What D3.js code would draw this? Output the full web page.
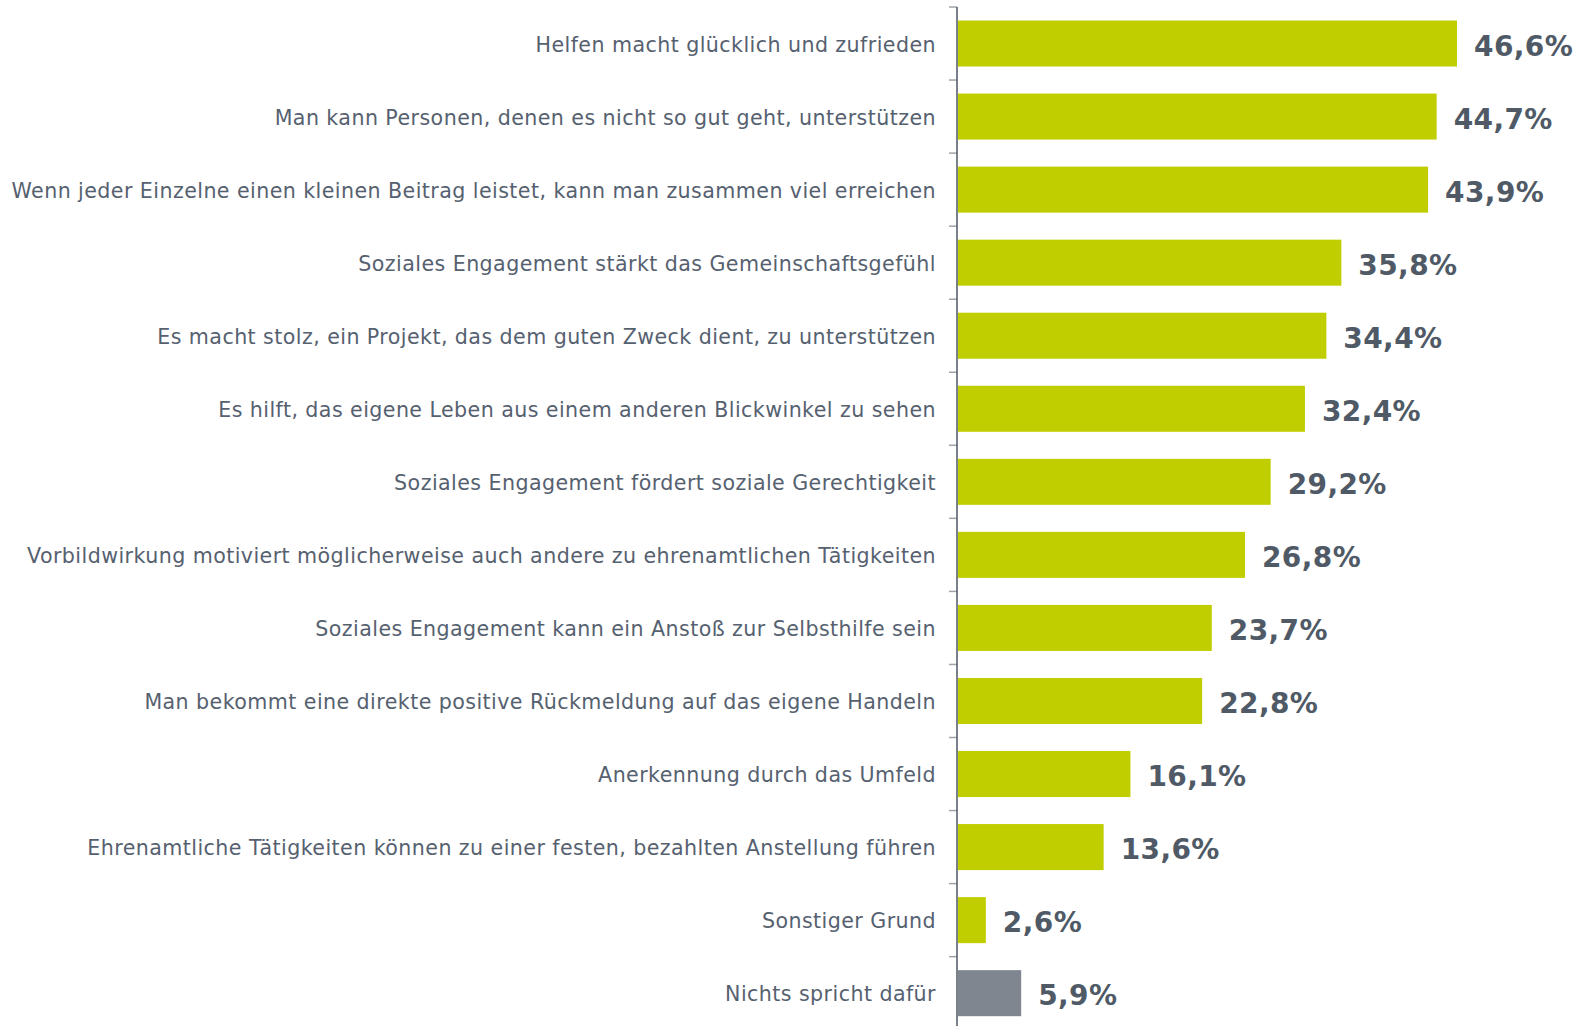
<!DOCTYPE html>
<html>
<head>
<meta charset="utf-8">
<script src="https://cdn.jsdelivr.net/npm/d3@7"></script>
<style>
  html, body { margin: 0; padding: 0; background: #fff; }
  svg { display: block; }
</style>
</head>
<body>
<div id="chart"></div>
<script>
const categories = [
  "Helfen macht glücklich und zufrieden",
  "Man kann Personen, denen es nicht so gut geht, unterstützen",
  "Wenn jeder Einzelne einen kleinen Beitrag leistet, kann man zusammen viel erreichen",
  "Soziales Engagement stärkt das Gemeinschaftsgefühl",
  "Es macht stolz, ein Projekt, das dem guten Zweck dient, zu unterstützen",
  "Es hilft, das eigene Leben aus einem anderen Blickwinkel zu sehen",
  "Soziales Engagement fördert soziale Gerechtigkeit",
  "Vorbildwirkung motiviert möglicherweise auch andere zu ehrenamtlichen Tätigkeiten",
  "Soziales Engagement kann ein Anstoß zur Selbsthilfe sein",
  "Man bekommt eine direkte positive Rückmeldung auf das eigene Handeln",
  "Anerkennung durch das Umfeld",
  "Ehrenamtliche Tätigkeiten können zu einer festen, bezahlten Anstellung führen",
  "Sonstiger Grund",
  "Nichts spricht dafür"
];
const values = [46.6, 44.7, 43.9, 35.8, 34.4, 32.4, 29.2, 26.8, 23.7, 22.8, 16.1, 13.6, 2.6, 5.9];
const highlightGrey = ["Nichts spricht dafür"];

const W = 1585, H = 1026;
const axisX = 957;

const svg = d3.select("#chart").append("svg")
  .attr("width", W).attr("height", H);

const y = d3.scaleBand()
  .domain(categories)
  .range([7, 7 + categories.length * 73.05])
  .paddingInner(0.37)
  .paddingOuter(0.185);

const x = d3.scaleLinear().domain([0, 46.6]).range([axisX + 1, 1457]);

const data = categories.map((c, i) => ({ cat: c, value: values[i] }));
const gap = (y.step() - y.bandwidth()) / 2;

// bars
svg.append("g").selectAll("rect").data(data).join("rect")
  .attr("x", x(0))
  .attr("y", d => y(d.cat))
  .attr("width", d => x(d.value) - x(0))
  .attr("height", y.bandwidth())
  .attr("fill", d => highlightGrey.includes(d.cat) ? "#7f8690" : "#c0ce00");

// ticks at band boundaries
svg.append("g").selectAll("line").data(categories).join("line")
  .attr("x1", axisX - 8).attr("x2", axisX)
  .attr("y1", d => y(d) - gap).attr("y2", d => y(d) - gap)
  .attr("stroke", "#9ea4ab").attr("stroke-width", 1.5);

// axis line
svg.append("line")
  .attr("x1", axisX).attr("x2", axisX)
  .attr("y1", 7).attr("y2", H)
  .attr("stroke", "#4e5662").attr("stroke-width", 1.5);

// category labels
svg.append("g").selectAll("text").data(data).join("text")
  .attr("x", 936)
  .attr("y", d => y(d.cat) + y.bandwidth() / 2 + 1)
  .attr("dy", "0.35em")
  .attr("text-anchor", "end")
  .attr("font-family", "Verdana, 'DejaVu Sans', sans-serif")
  .attr("font-size", 20.6)
  .attr("letter-spacing", 0.43)
  .attr("fill", "#566170")
  .text(d => d.cat);

// value labels
svg.append("g").selectAll("text").data(data).join("text")
  .attr("x", d => x(d.value) + 17)
  .attr("y", d => y(d.cat) + y.bandwidth() / 2 + 2)
  .attr("dy", "0.36em")
  .attr("font-family", "Verdana, 'DejaVu Sans', sans-serif")
  .attr("font-weight", "bold")
  .attr("font-size", 28)
  .attr("letter-spacing", 0.4)
  .attr("fill", "#4f5a66")
  .text(d => d.value.toFixed(1).replace(".", ",") + "%");
</script>
</body>
</html>
